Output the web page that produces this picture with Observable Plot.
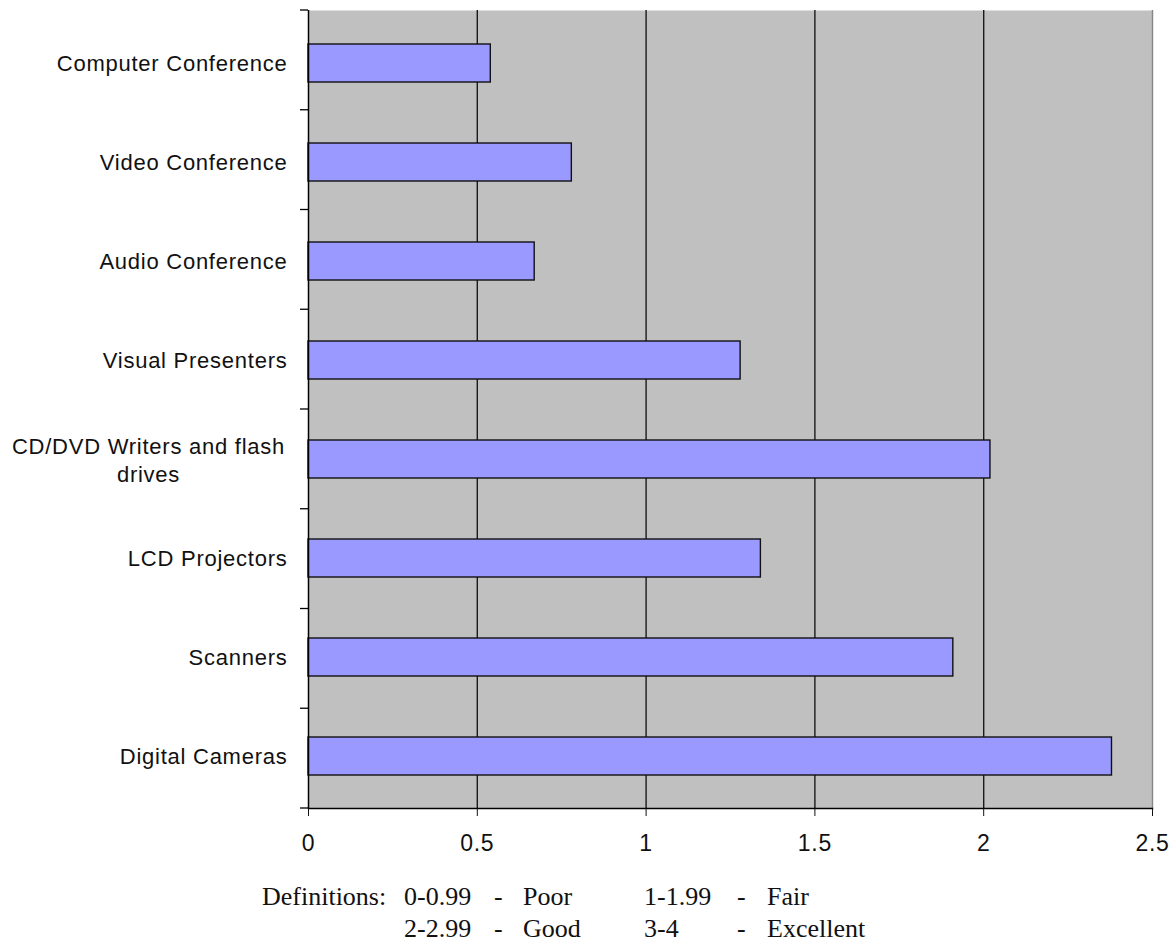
<!DOCTYPE html>
<html>
<head>
<meta charset="utf-8">
<script src="https://cdn.jsdelivr.net/npm/d3@7"></script>
<script src="https://cdn.jsdelivr.net/npm/@observablehq/plot@0.6"></script>
<style>
  html, body { margin: 0; padding: 0; background: #fff; }
  #wrap { position: relative; width: 1170px; height: 944px; }
  #defs span {
    position: absolute;
    font-family: "Liberation Serif", "Times New Roman", serif;
    font-size: 26px;
    line-height: 1;
    color: #111;
    white-space: pre;
  }
</style>
</head>
<body>
<div id="wrap">
  <div id="chart"></div>
  <div id="defs"></div>
</div>
<script>
// Rating of each technology (0–4 scale), listed top to bottom
const categories = [
  "Computer Conference",
  "Video Conference",
  "Audio Conference",
  "Visual Presenters",
  "CD/DVD Writers and flash drives",
  "LCD Projectors",
  "Scanners",
  "Digital Cameras"
];
const ratings = [0.54, 0.78, 0.67, 1.28, 2.02, 1.34, 1.91, 2.38];
const xTicks = [0, 0.5, 1, 1.5, 2, 2.5];
const gridValues = [0.5, 1, 1.5, 2];

// Rating bands explained under the chart
const defRanges = ["0-0.99", "1-1.99", "2-2.99", "3-4"];
const defLabels = ["Poor", "Fair", "Good", "Excellent"];

const data = categories.map((c, i) => ({category: c, value: ratings[i]}));
const wrapped = "CD/DVD Writers and flash drives";

const W = 1170, H = 860, mt = 10, mb = 52, ml = 308, mr = 18;

// Small tick marks on the left axis at the boundaries between categories
function bandTicks(index, scales, values, dims) {
  const g = d3.create("svg:g");
  const step = (dims.height - dims.marginTop - dims.marginBottom) / categories.length;
  for (let i = 0; i <= categories.length; i++) {
    const y = dims.marginTop + i * step;
    g.append("line")
      .attr("x1", dims.marginLeft - 8).attr("x2", dims.marginLeft)
      .attr("y1", y).attr("y2", y)
      .attr("stroke", "#000").attr("stroke-width", 1.3);
  }
  return g.node();
}

const chart = Plot.plot({
  width: W,
  height: H,
  marginTop: mt,
  marginBottom: mb,
  marginLeft: ml,
  marginRight: mr,
  style: {
    fontFamily: "'Liberation Sans', Arial, sans-serif",
    fontSize: "22px",
    letterSpacing: "0.75px",
    color: "#111",
    background: "#fff",
    overflow: "visible"
  },
  x: {domain: [0, 2.5]},
  y: {domain: categories, paddingInner: 0.62, paddingOuter: 0.31},
  marks: [
    Plot.frame({fill: "#c0c0c0", stroke: null}),
    Plot.ruleX(gridValues, {stroke: "#1a1a1a", strokeWidth: 1.4}),
    Plot.ruleX([2.5], {stroke: "#868686", strokeWidth: 1.4}),
    Plot.barX(data, {x: "value", y: "category", fill: "#9999ff", stroke: "#111", strokeWidth: 1.4}),
    Plot.ruleX([0], {stroke: "#000", strokeWidth: 1.5}),
    Plot.frame({anchor: "bottom", stroke: "#000", strokeWidth: 1.5}),
    Plot.axisX({ticks: xTicks, tickSize: 8, tickPadding: 18, fontSize: 23, tickFormat: d => String(d), label: null}),
    Plot.axisY({tickSize: 0, tickPadding: 21, tickFormat: d => d === wrapped ? "" : d, label: null}),
    Plot.text([wrapped], {
      y: d => d,
      text: () => "CD/DVD Writers and flash\ndrives",
      frameAnchor: "left",
      textAnchor: "middle",
      dx: -160,
      lineHeight: 1.27
    }),
    bandTicks
  ]
});
document.getElementById("chart").appendChild(chart);

// Definitions legend below the axis
const defs = document.getElementById("defs");
function place(text, left, top) {
  const s = document.createElement("span");
  s.textContent = text;
  s.style.left = left + "px";
  s.style.top = top + "px";
  defs.appendChild(s);
}
const row1 = 884, row2 = 916;
place("Definitions:", 262, row1);
[[0, 404, 523, row1], [1, 644, 767, row1], [2, 404, 523, row2], [3, 644, 767, row2]]
  .forEach(([i, xr, xl, top]) => {
    place(defRanges[i], xr, top);
    place("-", xr === 404 ? 494 : 737, top);
    place(defLabels[i], xl, top);
  });
</script>
</body>
</html>
